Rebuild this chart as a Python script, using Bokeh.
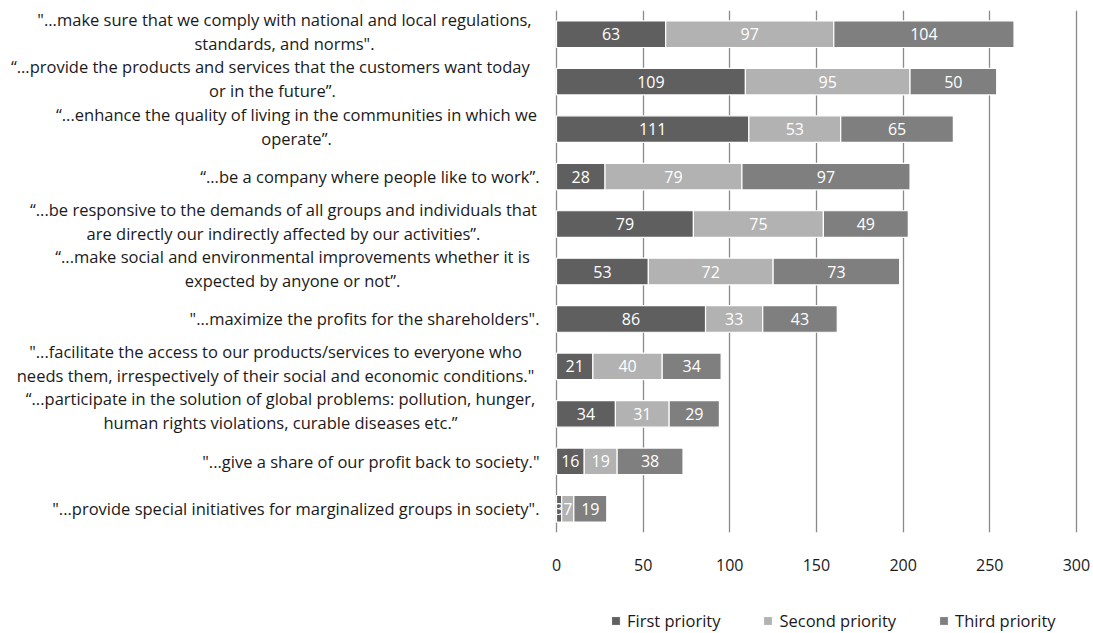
import numpy as np
from bokeh.plotting import figure
from bokeh.layouts import row, column
from bokeh.models import (ColumnDataSource, FactorRange, Range1d, Legend,
                          LegendItem, FixedTicker)
from bokeh.core.properties import value
from bokeh.embed import file_html
from bokeh.resources import INLINE

# ---------------- data (top to bottom) ----------------
labels = [
    ['"...make sure that we comply with national and local regulations,', 'standards, and norms".'],
    ['\u201c...provide the products  and services that the customers want today', 'or in the future\u201d.'],
    ['\u201c...enhance the quality of living in the communities in which we', 'operate\u201d.'],
    ['\u201c...be a company where people like to work\u201d.'],
    ['\u201c...be responsive to the demands of all groups and individuals that', 'are directly our indirectly affected by our activities\u201d.'],
    ['\u201c...make social and environmental improvements whether it is', 'expected by anyone or not\u201d.'],
    ['"...maximize the profits for the shareholders".'],
    ['"...facilitate the access to our products/services to everyone who', 'needs them, irrespectively of their social and economic conditions."'],
    ['\u201c...participate in the solution of global problems: pollution, hunger,', 'human rights violations, curable diseases etc.\u201d'],
    ['"...give a share of our profit back to society."'],
    ['"...provide special initiatives for marginalized groups in society".'],
]
first = [63, 109, 111, 28, 79, 53, 86, 21, 34, 16, 3]
second = [97, 95, 53, 79, 75, 72, 33, 40, 31, 19, 7]
third = [104, 50, 65, 97, 49, 73, 43, 34, 29, 38, 19]
series_names = ["First priority", "Second priority", "Third priority"]
x_ticks = [0, 50, 100, 150, 200, 250, 300]

# ---------------- styles / layout ----------------
colors = ["#5f5f5f", "#b2b2b2", "#7f7f7f"]
FONT = "Open Sans"
TXT = "#1a1a1a"
W, H = 1093, 633
LEG_H = 33                   # height of the legend strip
MAIN_H = H - LEG_H
LEFT_W = 545                 # width of the label panel
zero_px = 556
ppu = 1.733                  # pixels per unit
frame_left = 554
frame_right = 1080
frame_top, frame_bottom = 10, 532
x_start = -(zero_px - frame_left) / ppu
x_end = x_start + (frame_right - frame_left) / ppu
label_right = 539
# horizontal centre (px) of each two-line label block (None = single line, right aligned)
label_centres = [284, 272, 296, None, 283, 292, None, 275, 280, None, None]
line_gap = 12
block_shift = -3
LABEL_SIZE = "16.5px"

cats = [" ".join(l) for l in labels]
factors = cats[::-1]
n = len(labels)
yr = FactorRange(factors=factors, range_padding=0)

# ---------------- main chart ----------------
p = figure(width=W - LEFT_W, height=MAIN_H, output_backend="svg", toolbar_location=None,
           y_range=yr, x_range=Range1d(x_start, x_end),
           min_border_left=frame_left - LEFT_W, min_border_right=W - frame_right,
           min_border_top=frame_top, min_border_bottom=MAIN_H - frame_bottom)
p.outline_line_color = None

f = np.array(first, dtype=float)
s = np.array(second, dtype=float)
t = np.array(third, dtype=float)
stacks = [(np.zeros(n), f), (f, f + s), (f + s, f + s + t)]
vals = [f, s, t]

for (l, r), v, c in zip(stacks, vals, colors):
    src = ColumnDataSource(dict(y=cats, left=l, right=r, mid=(l + r) / 2,
                                txt=[str(int(x)) for x in v]))
    p.hbar(y="y", left="left", right="right", height=0.56, source=src,
           fill_color=c, line_color="white", line_width=1.2)
    p.text(x="mid", y="y", text="txt", source=src, text_align="center",
           text_baseline="middle", text_color="white", text_font_size="16px",
           text_font=value(FONT))

p.yaxis.visible = False
p.xaxis.ticker = FixedTicker(ticks=x_ticks)
p.xaxis.axis_line_color = None
p.xaxis.major_tick_line_color = None
p.xaxis.minor_tick_line_color = None
p.xaxis.major_label_standoff = 20
p.xaxis.major_label_text_font = FONT
p.xaxis.major_label_text_font_size = "16px"
p.xaxis.major_label_text_color = TXT
p.ygrid.grid_line_color = None
p.xgrid.ticker = FixedTicker(ticks=x_ticks)
p.xgrid.grid_line_color = "#898989"
p.xgrid.grid_line_width = 1.3
p.xgrid.level = "underlay"

# ---------------- label panel ----------------
q = figure(width=LEFT_W, height=MAIN_H, output_backend="svg", toolbar_location=None,
           y_range=yr, x_range=Range1d(0, LEFT_W),
           min_border_left=0, min_border_right=0,
           min_border_top=frame_top, min_border_bottom=MAIN_H - frame_bottom)
q.axis.visible = False
q.xgrid.grid_line_color = None
q.ygrid.grid_line_color = None
q.outline_line_color = None

cx, cy, ctext, coff = [], [], [], []
rx, ry, rtext = [], [], []
for cat, lines, cen in zip(cats, labels, label_centres):
    if cen is None:
        rx.append(label_right); ry.append(cat); rtext.append(lines[0])
    else:
        for j, line in enumerate(lines):
            cx.append(cen); cy.append(cat); ctext.append(line)
            coff.append(block_shift + (-line_gap if j == 0 else line_gap))

q.text(x="x", y="y", text="text", y_offset="off",
       source=ColumnDataSource(dict(x=cx, y=cy, text=ctext, off=coff)),
       text_align="center", text_baseline="middle", text_font=value(FONT),
       text_font_size=LABEL_SIZE, text_color=TXT)
q.text(x="x", y="y", text="text",
       source=ColumnDataSource(dict(x=rx, y=ry, text=rtext)),
       text_align="right", text_baseline="middle", text_font=value(FONT),
       text_font_size=LABEL_SIZE, text_color=TXT)

# ---------------- legend strip ----------------
lg = figure(width=W, height=LEG_H, output_backend="svg", toolbar_location=None,
            x_range=Range1d(0, 1), y_range=Range1d(0, 1),
            min_border_left=0, min_border_right=0, min_border_top=0, min_border_bottom=0)
lg.axis.visible = False
lg.xgrid.grid_line_color = None
lg.ygrid.grid_line_color = None
lg.outline_line_color = None
lg.outline_line_alpha = 0
legend_renderers = []
for c in colors:
    # placed outside the strip's visible x range: only its legend swatch is drawn
    legend_renderers.append(lg.hbar(y=[0.5], left=[5], right=[6], height=0.5,
                                    fill_color=c, line_color="white", line_width=1))
legend = Legend(items=[LegendItem(label=nm, renderers=[r]) for nm, r in zip(series_names, legend_renderers)],
                orientation="horizontal", location=(610, 1),
                glyph_width=11, glyph_height=11, label_standoff=6, spacing=42,
                padding=0, margin=0, border_line_color=None,
                background_fill_alpha=0, label_text_font=FONT,
                label_text_font_size="16.5px", label_text_color=TXT)
lg.add_layout(legend, "center")

layout = column(row(q, p, spacing=0), lg, spacing=0)
open("out.html", "w").write(file_html(layout, INLINE))
